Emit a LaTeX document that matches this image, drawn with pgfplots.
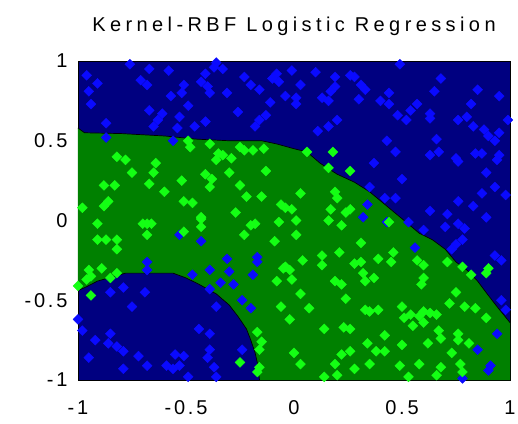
\documentclass[border=0pt]{standalone}
\usepackage{fontspec}
\setmainfont{Liberation Sans}
\newfontfamily\mlfont[LetterSpace=22]{Liberation Sans}
\newfontfamily\mltick[LetterSpace=14]{Liberation Sans}
\usepackage{pgfplots}
\pgfplotsset{compat=1.18}
\definecolor{bgnavy}{RGB}{0,0,128}
\definecolor{regiongreen}{RGB}{0,128,0}
\definecolor{ptblue}{RGB}{10,10,255}
\definecolor{ptgreen}{RGB}{20,255,20}
\begin{document}
\begin{tikzpicture}[x=1pt,y=1pt]
\useasboundingbox (-78,-43) rectangle (440,380);
\begin{axis}[
  at={(0,0)}, anchor=south west,
  scale only axis, width=432pt, height=319pt,
  xmin=-1, xmax=1, ymin=-1, ymax=1,
  clip mode=individual,
  axis background/.style={fill=bgnavy},
  axis line style={black, line width=0.8pt},
  major tick length=0pt,
  xtick={-1,-0.5,0,0.5,1}, xticklabels={-1,-0.5,0,0.5,1},
  ytick={-1,-0.5,0,0.5,1}, yticklabels={-1,-0.5,0,0.5,1},
  xticklabel style={font=\mltick\fontsize{20}{20}\selectfont, yshift=-17pt},
  yticklabel style={font=\mltick\fontsize{20}{20}\selectfont, xshift=-7pt},
  title={Kernel-RBF Logistic Regression},
  title style={font=\mlfont\fontsize{20}{20}\selectfont, yshift=16pt},
]
% decision region of class 2
\addplot[fill=regiongreen, draw=none] coordinates {
  (-1,0.58) (-0.97,0.55) (-0.8,0.545) (-0.6,0.53) (-0.45,0.51) (-0.3,0.50)
  (-0.15,0.50) (-0.08,0.48) (0,0.45) (0.06,0.43) (0.12,0.36) (0.2,0.29)
  (0.28,0.24) (0.35,0.18) (0.43,0.09) (0.51,0.0) (0.58,-0.08) (0.64,-0.12)
  (0.70,-0.18) (0.75,-0.26) (0.80,-0.31) (0.85,-0.38) (0.90,-0.47) (0.94,-0.54)
  (1,-0.64) (1,-1) (-0.16,-1) (-0.165,-0.92) (-0.18,-0.83) (-0.20,-0.75)
  (-0.22,-0.68) (-0.26,-0.60) (-0.30,-0.53) (-0.36,-0.46) (-0.44,-0.40)
  (-0.50,-0.36) (-0.56,-0.33) (-0.7,-0.33) (-0.78,-0.33) (-0.91,-0.38)
  (-0.96,-0.415) (-1,-0.44)
};
\addplot[black, line width=0.7pt] coordinates {
  (-1,0.58) (-0.97,0.55) (-0.8,0.545) (-0.6,0.53) (-0.45,0.51) (-0.3,0.50)
  (-0.15,0.50) (-0.08,0.48) (0,0.45) (0.06,0.43) (0.12,0.36) (0.2,0.29)
  (0.28,0.24) (0.35,0.18) (0.43,0.09) (0.51,0.0) (0.58,-0.08) (0.64,-0.12)
  (0.70,-0.18) (0.75,-0.26) (0.80,-0.31) (0.85,-0.38) (0.90,-0.47) (0.94,-0.54)
  (1,-0.64)
};
\addplot[black, line width=0.7pt] coordinates {
  (-1,-0.44) (-0.96,-0.415) (-0.91,-0.38) (-0.78,-0.33) (-0.7,-0.33)
  (-0.56,-0.33) (-0.50,-0.36) (-0.44,-0.40) (-0.36,-0.46) (-0.30,-0.53)
  (-0.26,-0.60) (-0.22,-0.68) (-0.20,-0.75) (-0.18,-0.83) (-0.165,-0.92)
  (-0.16,-1)
};
% class 1 samples
\addplot[only marks, mark=square*, mark size=3.5pt,
  mark options={rotate=45, fill=ptblue, draw=ptblue}] coordinates {
  (-0.76,0.98) (-0.67,0.95) (-0.58,0.94) (-0.96,0.91) (-0.91,0.86) (-0.71,0.88)
  (-0.68,0.85) (-0.95,0.81) (-0.94,0.73) (-0.51,0.85) (-0.52,0.80) (-0.57,0.78)
  (-0.49,0.72) (-0.67,0.69) (-0.61,0.67) (-0.63,0.63) (-0.65,0.59) (-0.53,0.65)
  (-0.54,0.58) (-0.46,0.59) (-0.41,0.62) (-0.87,0.61) (-0.87,0.52) (-0.56,0.50)
  (-0.36,0.99) (-0.37,0.96) (-0.41,0.92) (-0.43,0.87) (-0.40,0.84) (-0.39,0.80)
  (-0.33,0.95) (-0.23,0.90) (-0.20,0.85) (-0.31,0.80) (-0.16,0.82) (-0.08,0.92)
  (-0.10,0.89) (-0.07,0.87) (-0.01,0.94) (0.03,0.85) (-0.04,0.78) (0.01,0.77)
  (0.01,0.73) (-0.11,0.74) (0.10,0.93) (0.19,0.90) (0.26,0.91) (0.28,0.90)
  (0.31,0.85) (0.19,0.84) (0.17,0.81) (0.13,0.77) (0.16,0.75) (0.30,0.76)
  (-0.26,0.68) (-0.13,0.66) (-0.16,0.63) (-0.18,0.59) (0.20,0.63) (0.16,0.59)
  (0.11,0.56)
  (0.37,0.36) (0.50,0.26) (0.34,0.10) (0.42,0.14) (0.47,0.14) (0.35,0.21) (0.32,0.02)
  (0.49,0.98) (0.68,0.89) (0.65,0.81) (0.33,0.82) (0.44,0.80) (0.40,0.75)
  (0.44,0.73) (0.57,0.73) (0.48,0.66) (0.52,0.63) (0.54,0.69) (0.63,0.67)
  (0.63,0.64) (0.85,0.82) (0.95,0.78) (0.82,0.73) (0.76,0.63) (0.80,0.65)
  (0.83,0.59) (0.88,0.57) (0.90,0.53) (0.93,0.50) (0.95,0.55) (0.99,0.63)
  (0.43,0.50) (0.66,0.51) (0.47,0.43) (0.63,0.41) (0.67,0.43) (0.75,0.39)
  (0.84,0.42) (0.87,0.42) (0.95,0.41)
  (0.76,0.37) (0.94,0.38) (0.89,0.30) (0.93,0.21) (0.87,0.17) (0.98,0.16)
  (0.76,0.12) (0.83,0.09) (0.63,0.06) (0.71,0.04) (0.89,0.02) (0.53,-0.01)
  (0.70,-0.04) (0.76,-0.02) (0.79,-0.05) (0.60,-0.06) (0.78,-0.12) (0.75,-0.15)
  (0.73,-0.18) (0.93,-0.22) (0.96,-0.25) (0.56,-0.17) (0.43,-0.01)
  (0.96,-0.50) (0.98,-0.56) (0.94,-0.71) (0.85,-0.81) (0.91,-0.91) (0.78,-0.99)
  (0.90,-0.94)
  (-0.43,-0.13) (-0.53,-0.09) (-0.68,-0.26) (-0.68,-0.31) (-0.31,-0.24)
  (-0.17,-0.23) (-0.17,-0.26) (-0.39,-0.31) (-0.30,-0.32) (-0.47,-0.34)
  (-0.34,-0.39) (-0.28,-0.40) (-0.39,-0.43) (-0.19,-0.34) (-0.85,-0.45)
  (-0.79,-0.42) (-0.69,-0.45) (-0.75,-0.54) (-1.0,-0.62) (-0.98,-0.69)
  (-0.85,-0.71) (-0.92,-0.75) (-0.86,-0.77) (-0.82,-0.79) (-0.79,-0.82)
  (-0.95,-0.86) (-0.79,-0.93) (-0.72,-0.85) (-0.68,-0.91) (-0.44,-0.68)
  (-0.39,-0.71) (-0.36,-0.54) (-0.24,-0.50) (-0.20,-0.55) (-0.39,-0.81)
  (-0.40,-0.86) (-0.55,-0.84) (-0.51,-0.85) (-0.59,-0.91) (-0.56,-0.93)
  (-0.53,-0.91) (-0.37,-0.92) (-0.49,-0.98) (-0.36,-0.98) (-0.24,-0.81)
};
% class 2 samples
\addplot[only marks, mark=square*, mark size=3.5pt,
  mark options={rotate=45, fill=ptgreen, draw=ptgreen}] coordinates {
  (-0.49,0.50) (-0.48,0.46) (-0.39,0.48) (-0.82,0.40) (-0.78,0.38) (-0.35,0.42)
  (-0.75,0.30) (-0.64,0.36) (-0.65,0.30) (-0.67,0.23) (-0.88,0.22) (-0.83,0.22)
  (-0.60,0.18) (-0.52,0.25) (-0.41,0.29) (-0.38,0.26) (-0.36,0.38) (-0.33,0.41)
  (-0.29,0.39) (-0.39,0.21) (-0.30,0.30) (-0.25,0.22) (-0.22,0.15) (-0.15,0.15)
  (-0.13,0.31) (-0.25,0.46) (-0.19,0.44) (-0.14,0.45) (-0.23,0.44) (-0.51,0.12)
  (-0.47,0.11) (-0.86,0.12) (-0.88,0.09) (-0.98,0.08) (-0.43,0.02) (-0.27,0.05)
  (-0.91,-0.02) (-0.70,-0.02) (-0.68,-0.02) (-0.66,-0.02) (-0.68,-0.09)
  (-0.43,0.01) (-0.43,-0.04) (-0.51,-0.07) (-0.91,-0.12) (-0.87,-0.12)
  (-0.82,-0.12) (-0.82,-0.18) (-0.20,-0.03) (-0.18,-0.02) (-0.23,-0.09)
  (-0.09,-0.13) (-0.07,-0.01) (-0.95,-0.31) (-0.94,-0.35) (-0.96,-0.37)
  (-0.89,-0.30) (-0.85,-0.36) (-0.82,-0.33) (-1.0,-0.41) (-0.94,-0.47)
  (-0.08,-0.38) (-0.05,-0.30) (-0.06,-0.54) (-0.17,-0.70) (-0.15,-0.76)
  (-0.16,-0.81) (-0.25,-0.89) (-0.16,-0.92) (-0.17,-0.95)
  (0.06,0.43) (0.18,0.43) (0.16,0.33) (0.26,0.31) (0.03,0.17) (0.19,0.18)
  (0.20,0.14) (0.17,0.07) (0.24,0.05) (0.26,0.07) (-0.01,0.07)
  (-0.06,0.10) (-0.04,0.08) (-0.04,-0.29)
  (0.14,-0.98) (0.20,-0.97) (0.53,-0.98) (0.66,-0.97) (0.78,-0.95)
  (0.44,-0.01) (0.46,-0.20) (0.39,-0.24) (0.45,-0.26) (0.57,-0.25) (0.60,-0.28)
  (0.71,-0.26) (0.78,-0.29) (0.90,-0.30)
  (0.01,0.00) (0.16,0.00) (0.22,-0.03) (0.01,-0.09) (0.31,-0.14) (0.13,-0.22)
  (0.21,-0.20) (0.04,-0.25) (0.13,-0.28) (0.28,-0.27) (0.31,-0.26) (-0.02,-0.31)
  (-0.01,-0.37) (0.19,-0.38) (0.22,-0.40) (0.32,-0.33) (0.37,-0.36) (0.33,-0.38)
  (0.60,-0.36) (0.59,-0.40) (0.82,-0.34) (0.89,-0.33) (0.75,-0.45) (0.79,-0.54)
  (0.72,-0.52) (0.84,-0.55) (0.89,-0.61) (0.03,-0.46) (0.24,-0.49) (0.07,-0.55)
  (-0.02,-0.62) (0.33,-0.56) (0.35,-0.57) (0.39,-0.56) (0.50,-0.54) (0.51,-0.61)
  (0.54,-0.59) (0.58,-0.60) (0.60,-0.57) (0.63,-0.58) (0.66,-0.59) (0.55,-0.66)
  (0.60,-0.64) (0.67,-0.69) (0.68,-0.74) (0.76,-0.71) (0.76,-0.75) (0.81,-0.77)
  (0.14,-0.68) (0.23,-0.67) (0.26,-0.68) (0.42,-0.72) (0.34,-0.77) (0.00,-0.83)
  (0.03,-0.90) (0.19,-0.90) (0.22,-0.84) (0.26,-0.82) (0.28,-0.93) (0.38,-0.82)
  (0.42,-0.82) (0.35,-0.90) (0.49,-0.91) (0.50,-0.78) (0.58,-0.90) (0.62,-0.77)
  (0.68,-0.92) (0.73,-0.83) (0.77,-0.90)
};
\end{axis}
\end{tikzpicture}
\end{document}
